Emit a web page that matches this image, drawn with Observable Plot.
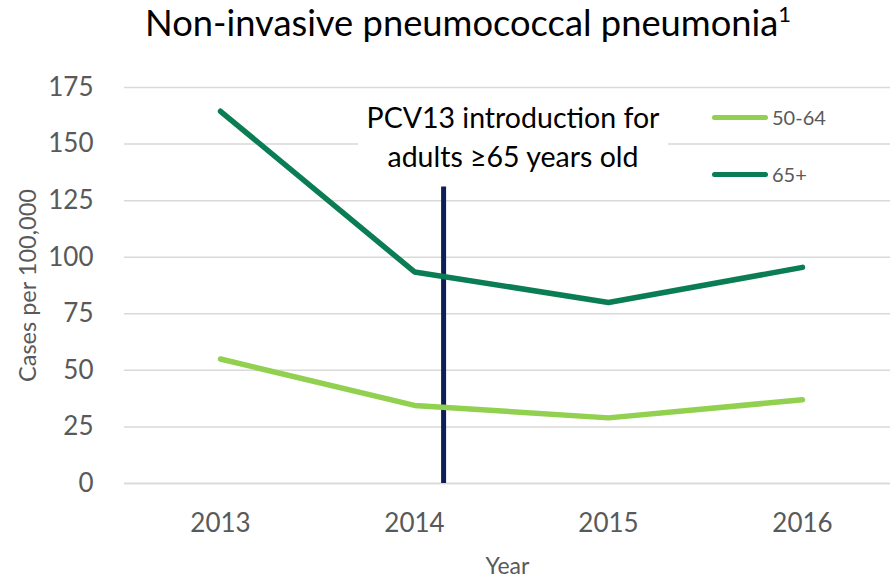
<!DOCTYPE html>
<html>
<head>
<meta charset="utf-8">
<script src="https://cdn.jsdelivr.net/npm/d3@7"></script>
<script src="https://cdn.jsdelivr.net/npm/@observablehq/plot@0.6"></script>
<style>
  body { margin: 0; background: #fff; font-family: Lato, "Open Sans", sans-serif; }
  #wrap { position: relative; width: 890px; height: 580px; overflow: hidden; }
  #title { height: 52px; position: relative; }
  #title span { position: absolute; left: 468px; top: 0px; transform: translateX(-50%); white-space: nowrap; font-size: 36.3px; color: #000; }
  #title sup { font-size: 22px; vertical-align: 14px; line-height: 0; }
  .legend { position: absolute; display: flex; align-items: center; font-size: 20px; color: #595959; }
  .legend .sw { width: 56px; height: 5px; border-radius: 3px; margin-right: 4px; }
  #note { position: absolute; left: 358px; top: 98px; width: 310px; background: #fff; text-align: center; font-size: 28.5px; line-height: 39px; color: #000; padding: 0; }
</style>
</head>
<body>
<div id="wrap">
  <div id="title"><span>Non-invasive pneumococcal pneumonia<sup>1</sup></span></div>
  <div id="chart"></div>
  <div id="note"></div>
  <div id="legend"></div>
</div>
<script>
const years = [2013, 2014, 2015, 2016];
const seriesNames = ["50-64", "65+"];
const values5064 = [55, 34.5, 29, 37];
const values65 = [164.5, 93.5, 80, 95.5];
const seriesColors = ["#92D050", "#0B7D54"];
const yTicks = [0, 25, 50, 75, 100, 125, 150, 175];
const introYear = 2014.15;
const introTop = 131;
const noteText = ["PCV13 introduction for", "adults \u226565 years old"];

const data = [];
years.forEach((yr, i) => {
  data.push({year: yr, value: values5064[i], series: seriesNames[0]});
  data.push({year: yr, value: values65[i], series: seriesNames[1]});
});

const chart = Plot.plot({
  width: 890,
  height: 528,
  marginTop: 35,
  marginBottom: 97,
  marginLeft: 124,
  marginRight: 0,
  style: {fontFamily: "Lato, 'Open Sans', sans-serif", color: "#595959", background: "transparent"},
  x: {domain: [2012.5, 2016.5], range: [123, 899]},
  y: {domain: [0, 175]},
  color: {domain: seriesNames, range: seriesColors},
  marks: [
    Plot.gridY(yTicks, {stroke: "#D9D9D9", strokeOpacity: 1, strokeWidth: 1.5}),
    Plot.ruleY([0], {stroke: "#D9D9D9", strokeWidth: 1.5}),
    Plot.axisY({ticks: yTicks, tickSize: 0, tickPadding: 31, fontSize: 26, label: null}),
    Plot.axisY({ticks: [], label: "Cases per 100,000", labelAnchor: "center", labelArrow: "none", labelOffset: 105, fontSize: 23.5}),
    Plot.axisX({ticks: years, tickFormat: "d", tickSize: 0, tickPadding: 30, fontSize: 26, label: null}),
    Plot.axisX({ticks: [], label: "Year", labelAnchor: "center", labelArrow: "none", labelOffset: 90, fontSize: 23}),
    Plot.ruleX([introYear], {y1: 0, y2: introTop, stroke: "#0E1F55", strokeWidth: 5}),
    Plot.line(data, {x: "year", y: "value", stroke: "series", z: "series", strokeWidth: 5.5, strokeLinecap: "round", strokeLinejoin: "miter"})
  ]
});
document.getElementById("chart").appendChild(chart);

document.getElementById("note").innerHTML = noteText.join("<br>");

const legend = document.getElementById("legend");
const legendTops = [105, 162];
seriesNames.forEach((name, i) => {
  const row = document.createElement("div");
  row.className = "legend";
  row.style.left = "712px";
  row.style.top = legendTops[i] + "px";
  row.style.height = "24px";
  const sw = document.createElement("div");
  sw.className = "sw";
  sw.style.background = seriesColors[i];
  const t = document.createElement("span");
  t.textContent = name;
  row.appendChild(sw);
  row.appendChild(t);
  legend.appendChild(row);
});
</script>
</body>
</html>
